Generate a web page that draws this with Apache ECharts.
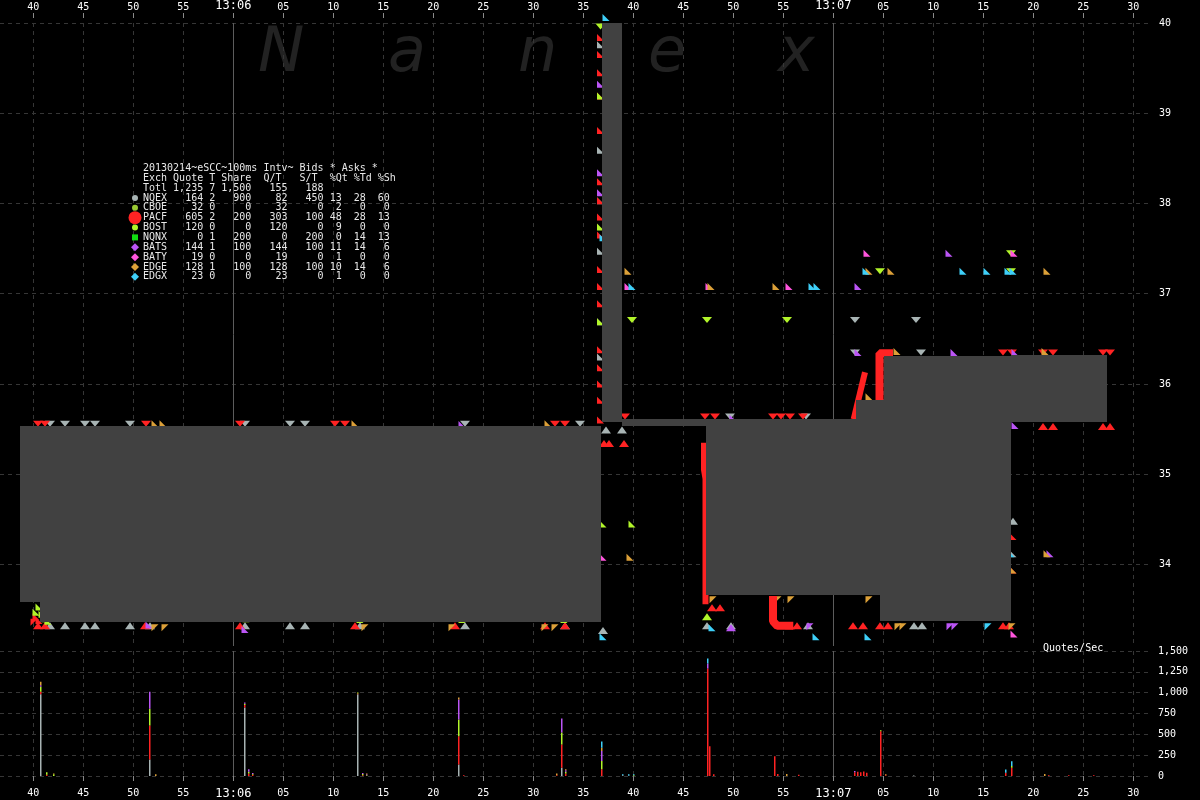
<!DOCTYPE html>
<html><head><meta charset="utf-8">
<script src="https://cdn.jsdelivr.net/npm/echarts@6/dist/echarts.min.js"></script>
<style>html,body{margin:0;padding:0;background:#000;}#c{width:1200px;height:800px;}</style>
</head><body><div id="c"></div>
<script>
// ---------- DATA ----------
// time = seconds after 13:05:00
const xTicks = [40,45,50,55,60,65,70,75,80,85,90,95,100,105,110,115,120,125,130,135,140,145,150];
const priceTicks = [34,35,36,37,38,39,40];
const exchNames = ['NQEX','CBOE','PACF','BOST','NQNX','BATS','BATY','EDGE','EDGX'];
const exchQuotes = [164,32,605,120,0,144,19,128,23];
const exchTrades = [2,0,2,0,1,1,0,1,0];
const exchShares = [900,0,200,0,200,100,0,100,0];
const exchQT = [82,32,303,120,0,144,19,128,23];
const exchST = [450,0,100,0,200,100,0,100,0];
const exchPctQt = [13,2,48,9,0,11,1,10,1];
const exchPctTd = [28,0,28,0,14,14,0,14,0];
const exchPctSh = [60,0,13,0,13,6,0,6,0];
const totals = ['1,235','7','1,500',155,188];
const tableTitle = '20130214~eSCC~100ms Intv~ Bids * Asks *';

// NBBO spread blocks
const spreadFrom = [38.67, 40.67, 96.87, 98.87, 107.27, 122.24, 124.67, 125.07, 137.77];
const spreadTo   = [40.67, 96.74, 98.87, 107.27, 122.24, 124.67, 125.07, 137.77, 147.37];
const spreadBid  = [33.59, 33.36, 35.58, 35.535, 33.66, 33.66, 33.37, 33.37, 35.58];
const spreadAsk  = [35.535, 35.535, 40.0, 35.61, 35.61, 35.82, 35.82, 36.31, 36.32];

// quotes: [time, price, kind]  U=bid at level, D=ask at level, A=ask away, B=bid away
const nqexQuotes = [
 [41.67,35.56,'D'],[43.17,35.56,'D'],[45.17,35.56,'D'],[46.17,35.56,'D'],[49.67,35.56,'D'],[61.17,35.56,'D'],[65.67,35.56,'D'],[67.17,35.56,'D'],[83.17,35.56,'D'],[94.67,35.56,'D'],
 [41.67,33.32,'U'],[43.17,33.32,'U'],[45.17,33.32,'U'],[46.17,33.32,'U'],[49.67,33.32,'U'],[51.67,33.32,'U'],[61.17,33.32,'U'],[65.67,33.32,'U'],[67.17,33.32,'U'],[72.67,33.32,'U'],[83.17,33.32,'U'],[93.17,33.32,'U'],
 [96.72,39.76,'A'],[96.72,38.59,'A'],[96.72,38.03,'A'],[96.72,37.47,'A'],[96.72,36.69,'A'],[96.72,36.30,'A'],
 [97.27,35.49,'U'],[98.87,35.49,'U'],[96.97,33.27,'U'],
 [122.17,36.71,'D'],[128.27,36.71,'D'],[122.17,36.35,'D'],[128.77,36.35,'D'],
 [109.67,35.64,'D'],[117.27,35.64,'D'],
 [137.97,34.48,'U'],[137.97,34.12,'A'],
 [107.37,33.32,'U'],[109.77,33.32,'U'],[117.47,33.32,'U'],[128.07,33.32,'U'],[128.87,33.32,'U']
];
const pacfQuotes = [
 [40.47,35.56,'D'],[41.17,35.56,'D'],[51.27,35.56,'D'],[60.67,35.56,'D'],[70.17,35.56,'D'],[71.17,35.56,'D'],[92.17,35.56,'D'],[93.17,35.56,'D'],
 [40.47,33.32,'U'],[41.17,33.32,'U'],[51.17,33.32,'U'],[60.67,33.32,'U'],[72.17,33.32,'U'],[82.17,33.32,'U'],[91.17,33.32,'U'],[93.17,33.32,'U'],
 [40.27,33.42,'A'],[40.57,33.38,'A'],[40.07,33.36,'B'],
 [96.72,39.84,'A'],[96.72,39.65,'A'],[96.72,39.45,'A'],[96.72,39.19,'A'],[96.72,38.81,'A'],[96.72,38.24,'A'],[96.72,38.03,'A'],[96.72,37.85,'A'],[96.72,37.65,'A'],[96.72,37.27,'A'],[96.72,37.08,'A'],[96.72,36.89,'A'],[96.72,36.38,'A'],[96.72,36.18,'A'],[96.72,36.00,'A'],[96.72,35.82,'A'],[96.72,35.60,'A'],
 [99.17,35.64,'D'],[97.07,35.34,'U'],[97.57,35.34,'U'],[99.07,35.34,'U'],
 [107.17,35.64,'D'],[108.17,35.64,'D'],[113.97,35.64,'D'],[114.77,35.64,'D'],[115.67,35.64,'D'],[116.97,35.64,'D'],
 [136.97,36.35,'D'],[137.87,36.35,'D'],[140.97,36.35,'D'],[141.97,36.35,'D'],[146.97,36.35,'D'],[147.67,36.35,'D'],
 [140.97,35.53,'U'],[141.97,35.53,'U'],[146.97,35.53,'U'],[147.67,35.53,'U'],
 [137.97,34.31,'A'],[137.97,33.94,'A'],
 [107.87,33.52,'U'],[108.67,33.52,'U'],
 [115.67,33.32,'U'],[116.37,33.32,'U'],[121.97,33.32,'U'],[122.97,33.32,'U'],[124.67,33.32,'U'],[125.47,33.32,'U'],[136.97,33.32,'U'],[137.57,33.32,'U']
];
const bostQuotes = [
 [40.27,33.47,'A'],[40.57,33.53,'A'],[40.87,33.45,'A'],[41.17,33.40,'A'],[41.47,33.37,'A'],
 [51.37,33.54,'A'],[51.37,33.47,'A'],[51.37,33.41,'A'],
 [60.97,33.47,'A'],[61.27,33.40,'A'],
 [72.37,33.44,'A'],[72.67,33.39,'A'],
 [82.67,33.54,'A'],[82.67,33.45,'A'],[82.87,33.39,'A'],
 [92.47,33.51,'A'],[92.77,33.44,'A'],[93.07,33.39,'A'],
 [96.72,39.96,'D'],[96.72,39.19,'A'],[96.72,37.74,'A'],[96.72,36.69,'A'],
 [99.87,36.71,'D'],[107.37,36.71,'D'],[115.37,36.71,'D'],
 [96.97,34.45,'A'],[99.87,34.45,'A'],
 [137.77,37.45,'D'],[124.67,37.25,'D'],[137.77,37.25,'D'],
 [107.37,33.42,'U']
];
const batsQuotes = [
 [96.72,39.32,'A'],[96.72,38.34,'A'],[96.72,38.12,'A'],
 [82.87,35.55,'A'],[51.57,33.33,'A'],[61.17,33.28,'A'],
 [122.47,37.08,'A'],[131.57,37.45,'A'],
 [122.47,36.35,'A'],[132.07,36.35,'A'],[138.17,36.35,'A'],
 [138.17,35.54,'A'],[141.67,34.12,'A'],[109.97,35.62,'A'],
 [109.77,33.30,'U'],[117.67,33.31,'B'],[131.67,33.31,'B'],[132.17,33.31,'B']
];
const batyQuotes = [
 [123.37,37.45,'A'],[138.07,37.45,'A'],
 [99.47,37.08,'A'],[107.57,37.08,'A'],[115.57,37.08,'A'],
 [96.97,34.08,'A'],[138.07,33.23,'A']
];
const edgeQuotes = [
 [52.17,35.56,'A'],[52.97,35.56,'A'],[72.17,35.56,'A'],[91.47,35.56,'A'],
 [52.17,33.30,'B'],[53.17,33.30,'B'],[73.17,33.30,'B'],[81.87,33.30,'B'],[91.17,33.30,'B'],[92.17,33.30,'B'],
 [99.47,37.25,'A'],[99.67,34.08,'A'],
 [123.57,37.25,'A'],[125.77,37.25,'A'],[141.37,37.25,'A'],
 [107.77,37.08,'A'],[114.27,37.08,'A'],
 [126.37,36.36,'A'],[141.17,36.36,'A'],[123.57,35.86,'A'],
 [137.97,33.94,'A'],[141.37,34.12,'A'],
 [107.97,33.61,'B'],[114.47,33.61,'B'],[115.77,33.61,'B'],[123.57,33.61,'B'],
 [126.47,33.31,'B'],[126.97,33.31,'B'],[137.87,33.31,'B']
];
const edgxQuotes = [
 [97.27,40.06,'A'],[96.97,37.62,'A'],[99.87,37.08,'A'],
 [123.27,37.25,'A'],[132.97,37.25,'A'],[135.37,37.25,'A'],[137.47,37.25,'A'],[137.97,37.25,'A'],
 [117.87,37.08,'A'],[118.37,37.08,'A'],[137.77,34.12,'A'],
 [107.87,33.30,'A'],[118.27,33.20,'A'],[123.47,33.20,'A'],[135.47,33.31,'B'],[96.97,33.20,'A']
];
// PACF quote trails
const pacfTrails = [
 [[107.07,35.35],[107.07,35.05],[107.22,34.95],[107.22,33.56]],
 [[113.97,33.65],[113.97,33.37],[114.4,33.32],[116.0,33.32]],
 [[122.04,35.61],[123.17,36.13]],
 [[124.62,35.82],[124.62,36.34],[125.97,36.34]]
];

// quotes/sec (100ms bins)
const volTimes = [40.7,41.3,42.0,51.56,52.2,61.09,61.5,61.9,72.39,72.9,73.3,82.51,83.0,92.3,92.77,93.2,96.81,98.9,99.5,100.0,107.37,107.52,108.0,114.04,114.4,115.27,116.5,122.1,122.4,122.7,123.0,123.3,124.67,125.2,128.0,137.14,137.73,141.03,141.5,143.5,146.0];
const volNQEX = [980,0,0,198,0,822,0,0,980,0,0,138,0,0,98,0,0,10,5,0,0,0,0,0,0,0,0,0,0,0,0,0,0,0,5,0,0,0,0,0,0];
const volPACF = [30,15,0,408,0,30,30,15,10,10,0,340,10,10,280,30,80,0,0,0,1290,358,20,238,25,0,15,45,50,45,55,40,538,10,0,40,100,0,10,10,10];
const volBOST = [60,30,20,200,0,15,20,10,12,15,10,200,0,0,144,20,100,0,0,10,0,0,0,0,0,0,0,0,0,0,0,0,10,0,0,0,20,0,0,0,0];
const volBATS = [20,0,0,204,0,15,30,10,0,10,10,240,0,0,168,20,120,0,0,0,60,0,0,0,0,0,0,15,0,0,0,0,0,0,0,0,0,0,0,0,0];
const volEDGE = [40,0,10,0,20,0,0,0,0,0,10,24,0,20,0,10,40,0,0,0,0,0,0,0,0,25,0,0,0,0,0,0,0,10,0,0,0,25,0,0,0];
const volEDGX = [0,0,0,0,0,0,0,0,0,0,0,0,0,0,0,0,74,10,15,10,60,0,0,0,0,0,0,0,0,0,0,0,0,0,0,38,58,0,0,0,0];

// ---------- STYLE ----------
const MONO = '"DejaVu Sans Mono", monospace';
const C = {NQEX:'#a8b4b4', CBOE:'#99c933', PACF:'#ff2323', BOST:'#b2f52a', NQNX:'#11dd11', BATS:'#bb55f5', BATY:'#ff55dd', EDGE:'#dca038', EDGX:'#3ecff8'};
const SHAPE = {U:'path://M5,0L10,7L0,7Z', D:'path://M0,0L10,0L5,6Z', A:'path://M0,0L0,7L7,7Z', B:'path://M0,0L7,0L0,7Z'};
const SIZE = {U:[10,7], D:[10,6], A:[7,7], B:[7,7]};
const X_MIN = 36.67, X_MAX = 151.87;
const P_MAX = 40, P_MIN = 40 - 623/90.25;
const trailWidths = [6,8,6,8];
const grid = '#363636';

const chart = echarts.init(document.getElementById('c'), null, {renderer:'canvas'});

function xAxisDef(gi, pos, offset, margin){
  return {
    type:'value', gridIndex:gi, position:pos, offset:offset, min:X_MIN, max:X_MAX,
    axisLine:{show:false},
    axisTick:{show:true, customValues:xTicks, length:5, lineStyle:{color:'#8a8a8a'}},
    axisLabel:{customValues:xTicks, color:'#fff', fontFamily:MONO, fontSize:10, margin:margin,
      formatter:v => v % 60 === 0 ? '{m|13:0' + (5 + v/60) + '}' : String(v % 60).padStart(2,'0'),
      rich:{m:{fontSize:12, fontFamily:MONO, color:'#fff'}}},
    splitLine:{show:true, lineStyle:{color:grid, type:[4,4], width:1}}
  };
}

const minuteLine = {silent:true, symbol:['none','none'], z:1, label:{show:false},
  lineStyle:{color:'#5c5c5c', type:'solid', width:1}, data:[{xAxis:60},{xAxis:120}], animation:false};

const quoteSets = [['NQEX',nqexQuotes],['PACF',pacfQuotes],['BOST',bostQuotes],['BATS',batsQuotes],['BATY',batyQuotes],['EDGE',edgeQuotes],['EDGX',edgxQuotes]];
const series = [];
quoteSets.forEach(([name, arr], i) => {
  const s = {name, type:'scatter', xAxisIndex:0, yAxisIndex:0, data:arr, clip:false, z:2,
    symbol:v => SHAPE[v[2]], symbolSize:v => SIZE[v[2]],
    itemStyle:{color:C[name], opacity:1}, animation:false};
  if (i === 0) s.markLine = minuteLine;
  series.push(s);
});
pacfTrails.forEach((tr, i) => {
  series.push({type:'line', xAxisIndex:0, yAxisIndex:0, data:tr, showSymbol:false, symbol:'none', z:3, clip:false,
    lineStyle:{color:C.PACF, width:trailWidths[i]}, animation:false});
});
series.push({type:'custom', xAxisIndex:0, yAxisIndex:0, z:10, animation:false,
  data: spreadFrom.map((s,i)=>[s, spreadTo[i], spreadBid[i], spreadAsk[i]]),
  encode:{x:[0,1], y:[2,3]},
  renderItem:(params, api) => {
    const p0 = api.coord([api.value(0), api.value(3)]);
    const p1 = api.coord([api.value(1), api.value(2)]);
    const x0 = Math.round(p0[0]), y0 = Math.round(p0[1]), x1 = Math.round(p1[0]), y1 = Math.round(p1[1]);
    return {type:'rect', shape:{x:x0, y:y0, width:x1-x0, height:y1-y0}, style:{fill:'#414141'}};
  }});

// stacked quotes/sec bars (stack computed from the arrays, drawn through the axes)
const volSets = [['NQEX',volNQEX],['PACF',volPACF],['BOST',volBOST],['BATS',volBATS],['EDGE',volEDGE],['EDGX',volEDGX]];
const base = volTimes.map(()=>0);
volSets.forEach(([name, arr], i) => {
  const data = [];
  volTimes.forEach((t,k)=>{ if (arr[k] > 0) data.push([t, base[k], base[k] + arr[k]]); base[k] += arr[k]; });
  const s = {type:'custom', xAxisIndex:1, yAxisIndex:1, animation:false, z:3,
    data, encode:{x:0, y:[1,2]},
    renderItem:(params, api) => {
      const a = api.coord([api.value(0), api.value(1)]);
      const b = api.coord([api.value(0), api.value(2)]);
      const x = Math.round(a[0]);
      return {type:'rect', shape:{x, y:b[1], width:1.5, height:a[1]-b[1]}, style:{fill:C[name]}};
    }};
  if (i === 0) s.markLine = minuteLine;
  series.push(s);
});

// table graphic
const pad = (v,n) => String(typeof v === 'number' ? v.toLocaleString('en-US') : v).padStart(n,' ');
const lines = [tableTitle, 'Exch Quote T Share  Q/T   S/T  %Qt %Td %Sh',
  'Totl ' + pad(totals[0],5) + ' ' + totals[1] + ' ' + pad(totals[2],5) + pad(totals[3],6) + pad(totals[4],6)];
exchNames.forEach((n,i)=>{
  lines.push(n + ' ' + pad(exchQuotes[i],5) + ' ' + exchTrades[i] + ' ' + pad(exchShares[i],5) + pad(exchQT[i],6) + pad(exchST[i],6) + pad(exchPctQt[i],3) + pad(exchPctTd[i],4) + pad(exchPctSh[i],4));
});
const rowY = i => 168.3 + i*9.87;
const graphics = [];
['N','a','n','e','x'].forEach((ch,i)=>{
  graphics.push({type:'text', left:258 + i*130, top:24, z:-10, silent:true,
    style:{text:ch, fill:'#222222', font:'italic 62px "DejaVu Sans"'}});
});
lines.forEach((t,i)=>{
  graphics.push({type:'text', x:143, y:rowY(i), z:100, silent:true,
    style:{text:t, fill:'#e8e8e8', font:'10px ' + MONO, textVerticalAlign:'middle', textAlign:'left'}});
});
exchNames.forEach((n,i)=>{
  const y = rowY(i+3), x = 135, col = C[n];
  let el;
  if (n === 'PACF') el = {type:'circle', shape:{cx:x, cy:y, r:6.5}, style:{fill:col}};
  else if (i < 4) el = {type:'circle', shape:{cx:x, cy:y, r:3}, style:{fill:col}};
  else if (n === 'NQNX') el = {type:'rect', shape:{x:x-3, y:y-3, width:6, height:6}, style:{fill:col}};
  else el = {type:'polygon', shape:{points:[[x,y-4],[x+4,y],[x,y+4],[x-4,y]]}, style:{fill:col}};
  el.z = 100; el.silent = true;
  graphics.push(el);
});
graphics.push({type:'text', x:1043, y:648, z:100, silent:true,
  style:{text:'Quotes/Sec', fill:'#fff', font:'10px ' + MONO, textVerticalAlign:'middle'}});

chart.setOption({
  backgroundColor:'#000',
  animation:false,
  grid:[{left:0, top:23, width:1152, height:623}, {left:0, top:651, width:1152, height:125.5}],
  xAxis:[xAxisDef(0,'top',5,6), xAxisDef(1,'bottom',3,9)],
  yAxis:[
    {type:'value', gridIndex:0, position:'right', min:P_MIN, max:P_MAX,
     axisLine:{show:false}, axisTick:{show:false, customValues:priceTicks},
     axisLabel:{customValues:priceTicks, color:'#fff', fontFamily:MONO, fontSize:10, margin:7},
     splitLine:{show:true, lineStyle:{color:grid, type:[4,4]}}},
    {type:'value', gridIndex:1, position:'right', min:0, max:1500, interval:250,
     axisLine:{show:false}, axisTick:{show:false},
     axisLabel:{color:'#fff', fontFamily:MONO, fontSize:10, margin:6, formatter:v=>v.toLocaleString('en-US')},
     splitLine:{show:true, lineStyle:{color:grid, type:[4,4]}}}
  ],
  graphic:{elements:graphics},
  series
});
</script></body></html>
